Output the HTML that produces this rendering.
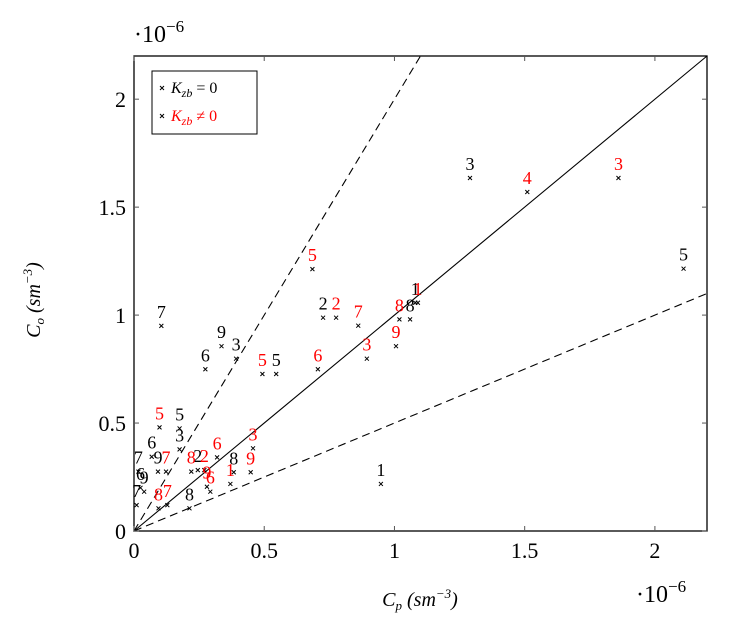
<!DOCTYPE html>
<html><head><meta charset="utf-8"><style>
body{margin:0;background:#fff;}
svg text{font-family:"Liberation Serif",serif;}
</style></head><body>
<svg id="chart" width="738" height="635" viewBox="0 0 738 635" xmlns="http://www.w3.org/2000/svg">
<g id="marks"></g>
</svg>
<script>
const blackX=[1.08,0.948,1.29,2.11,0.105,0.726,1.06,0.546,0.274,0.336,0.392,0.175,0.175,0.068,0.017,0.092,0.245,0.383,0.213,0.010,0.039,0.025];
const blackY=[1.057,0.218,1.635,1.215,0.95,0.988,0.98,0.727,0.749,0.856,0.798,0.475,0.378,0.344,0.275,0.275,0.282,0.272,0.105,0.12,0.182,0.2];
const blackLabels=['1','1','3','5','7','2','8','5','6','9','3','5','3','6','7','9','2','8','8','7','9','6'];
const redX=[1.51,1.86,0.685,0.776,0.861,1.019,1.09,1.006,0.894,0.706,0.493,0.098,0.123,0.220,0.27,0.319,0.457,0.448,0.37,0.280,0.293,0.094,0.128];
const redY=[1.57,1.635,1.213,0.988,0.951,0.98,1.057,0.856,0.798,0.749,0.727,0.480,0.275,0.275,0.282,0.341,0.383,0.272,0.218,0.205,0.182,0.105,0.12];
const redLabels=['4','3','5','2','7','8','1','9','3','6','5','5','7','8','2','6','3','9','1','9','6','8','7'];
const xTicks=[0,0.5,1,1.5,2];
const yTicks=[0,0.5,1,1.5,2];
const xTickLabels=['0','0.5','1','1.5','2'];
const yTickLabels=['0','0.5','1','1.5','2'];
const refSlopes=[1,2,0.5];

const X0=134,X1=707,Y0=531,Y1=56,MAX=2.2;
const sx=v=>X0+(X1-X0)*v/MAX;
const sy=v=>Y0-(Y0-Y1)*v/MAX;
const NS='http://www.w3.org/2000/svg';
const g=document.getElementById('marks');
function mk(tag,attrs,parent){const e=document.createElementNS(NS,tag);for(const k in attrs)e.setAttribute(k,attrs[k]);(parent||g).appendChild(e);return e;}

refSlopes.forEach((s,i)=>{
  const xe=Math.min(MAX,MAX/s);
  const l=mk('line',{x1:sx(0),y1:sy(0),x2:sx(xe),y2:sy(xe*s),stroke:'#000','stroke-width':1.1});
  if(s!==1)l.setAttribute('stroke-dasharray','8,5');
  
  
});
const fr=mk('rect',{x:X0,y:Y1,width:X1-X0,height:Y0-Y1,fill:'none',stroke:'#000','stroke-width':1.3});


xTicks.forEach((v,i)=>{
  const x=sx(v);
  mk('line',{x1:x,y1:Y0,x2:x,y2:Y0-5,stroke:'#555'});
  mk('line',{x1:x,y1:Y1,x2:x,y2:Y1+5,stroke:'#555'});
  const t=mk('text',{x:x,y:Y0+27,'font-size':22,'text-anchor':'middle'});
  t.textContent=xTickLabels[i];
  
  
});
yTicks.forEach((v,i)=>{
  const y=sy(v);
  mk('line',{x1:X0,y1:y,x2:X0+5,y2:y,stroke:'#555'});
  mk('line',{x1:X1,y1:y,x2:X1-5,y2:y,stroke:'#555'});
  const t=mk('text',{x:X0-8,y:y+8,'font-size':22,'text-anchor':'end'});
  t.textContent=yTickLabels[i];
  
  
});
function cross(x,y){
  return mk('path',{d:`M${x-2},${y-2}L${x+2},${y+2}M${x-2},${y+2}L${x+2},${y-2}`,stroke:'#000','stroke-width':1});
}
function series(xs,ys,labs,color,name){
  xs.forEach((v,i)=>{
    const x=sx(v),y=sy(ys[i]);
    const p=cross(x,y);
    
    
    const t=mk('text',{x:x,y:y-8,'font-size':18,'text-anchor':'middle',fill:color});
    t.textContent=labs[i];
    
    
  });
}
series(blackX,blackY,blackLabels,'#000','kzb-zero');
series(redX,redY,redLabels,'#f00','kzb-nonzero');
</script>
<svg style="position:absolute;left:0;top:0" width="738" height="635">
<g>
<rect x="152" y="71" width="105" height="63" fill="#fff" stroke="#000" stroke-width="1"/>
<path d="M160,86L164,90M160,90L164,86" stroke="#000"/>
<text x="171" y="93" font-size="16" font-family="Liberation Serif,serif"><tspan font-style="italic">K</tspan><tspan font-style="italic" font-size="12" dy="4">zb</tspan><tspan dy="-4"> = 0</tspan></text>
<path d="M160,114L164,118M160,118L164,114" stroke="#000"/>
<text x="171" y="121" font-size="16" fill="#f00" font-family="Liberation Serif,serif"><tspan font-style="italic">K</tspan><tspan font-style="italic" font-size="12" dy="4">zb</tspan><tspan dy="-4"> ≠ 0</tspan></text>
</g>
<text x="134" y="42" font-size="24" font-family="Liberation Serif,serif">·10<tspan font-size="17" dy="-10">−6</tspan></text>
<text x="636" y="602" font-size="24" font-family="Liberation Serif,serif">·10<tspan font-size="17" dy="-10">−6</tspan></text>
<text x="420" y="606" font-size="20" text-anchor="middle" font-family="Liberation Serif,serif" font-style="italic">C<tspan font-size="13" dy="4">p</tspan><tspan dy="-4"> (sm</tspan><tspan font-size="13" dy="-8">−3</tspan><tspan dy="8">)</tspan></text>
<text transform="translate(40,300) rotate(-90)" font-size="20" text-anchor="middle" font-family="Liberation Serif,serif" font-style="italic">C<tspan font-size="13" dy="4">o</tspan><tspan dy="-4"> (sm</tspan><tspan font-size="13" dy="-8">−3</tspan><tspan dy="8">)</tspan></text>
</svg>
</body></html>
